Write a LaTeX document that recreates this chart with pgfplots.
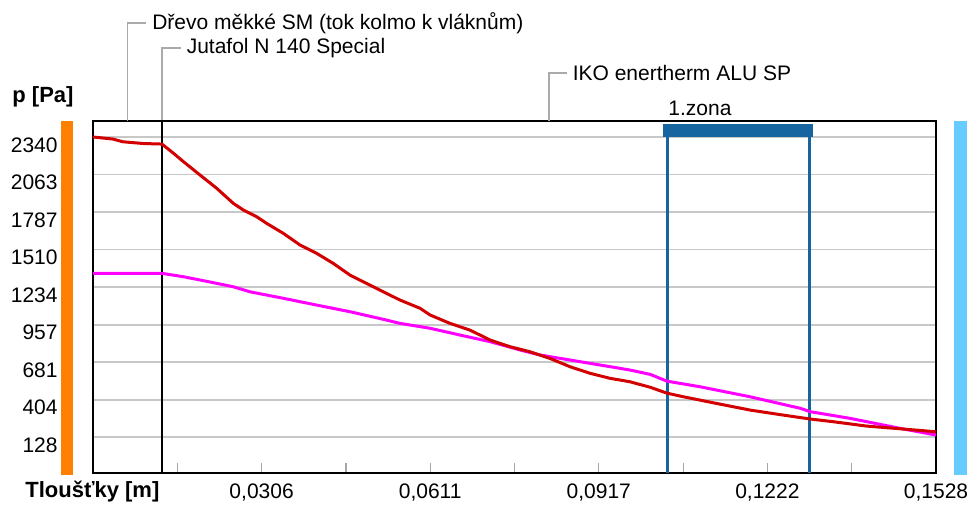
\documentclass[border=0pt]{standalone}
\usepackage{pgfplots}
\pgfplotsset{compat=1.18}
\usepackage{fontspec}
\setmainfont{Liberation Sans}
\definecolor{cred}{RGB}{210,0,0}
\definecolor{cmag}{RGB}{255,0,255}
\definecolor{zoneblue}{RGB}{22,100,160}
\definecolor{gridc}{RGB}{200,200,200}
\definecolor{leadc}{RGB}{170,170,170}
\definecolor{corange}{RGB}{255,128,0}
\definecolor{clblue}{RGB}{102,204,255}
\begin{document}
\begin{tikzpicture}[font=\fontsize{10.5}{12}\selectfont]
\path[use as bounding box] (0,0) rectangle (486pt,252pt);
% side bars
\fill[corange] (30.5pt,14.5pt) rectangle (36.5pt,191.5pt);
\fill[clblue] (477pt,14.5pt) rectangle (483.5pt,191.5pt);
\node[anchor=west,inner sep=0pt,font=\fontsize{11}{12}\selectfont\bfseries] at (6pt,203.5pt) {p [Pa]};
\node[anchor=west,inner sep=0pt,font=\fontsize{11}{12}\selectfont\bfseries] at (12.5pt,6pt) {Tloušťky [m]};
\begin{axis}[
  at={(46.5pt,15.5pt)}, anchor=south west,
  scale only axis, width=421.5pt, height=176pt,
  xmin=0, xmax=0.1528, ymin=-137, ymax=2458,
  clip=false,
  axis line style={line width=1pt},
  ytick={128,404,681,957,1234,1510,1787,2063,2340},
  yticklabels={128,404,681,957,1234,1510,1787,2063,2340},
  ymajorgrids, grid style={line width=0.9pt, color=gridc},
  ytick style={draw=none},
  xtick={0.01528,0.03056,0.04584,0.06112,0.0764,0.09168,0.10696,0.12224,0.13752,0.1528},
  xticklabels={,{0,0306},,{0,0611},,{0,0917},,{0,1222},,{0,1528}},
  xtick pos=bottom, tick align=inside, major tick length=5pt,
  xtick style={color=gray!70, line width=0.6pt},
  ticklabel style={font=\fontsize{10.5}{12}\selectfont},
  yticklabel style={anchor=east, inner sep=0pt, xshift=-17.5pt, yshift=-4pt},
  xticklabel style={anchor=north, inner sep=0pt, yshift=-5pt},
]
% zone band and lines
\fill[zoneblue] (axis cs:0.1033,2340) rectangle (axis cs:0.1305,2436);
\draw[zoneblue, line width=1.5pt] (axis cs:0.10404,-137) -- (axis cs:0.10404,2340);
\draw[zoneblue, line width=1.5pt] (axis cs:0.12978,-137) -- (axis cs:0.12978,2340);
% layer boundary
\draw[black, line width=0.7pt] (axis cs:0.0125,-137) -- (axis cs:0.0125,2458);
% leaders
\draw[leadc, line width=0.8pt] (axis cs:0.00625,2458) -- ([yshift=49pt]axis cs:0.00625,2458) -- ([yshift=49pt,xshift=9.5pt]axis cs:0.00625,2458) node[anchor=west,inner sep=2.5pt,black] {Dřevo měkké SM (tok kolmo k vláknům)};
\draw[leadc, line width=0.8pt] ([yshift=0.5pt]axis cs:0.0125,2458) -- ([yshift=36.5pt]axis cs:0.0125,2458) -- ([yshift=36.5pt,xshift=9.5pt]axis cs:0.0125,2458) node[anchor=west,inner sep=2.5pt,black] {Jutafol N 140 Special};
\draw[leadc, line width=0.8pt] (axis cs:0.08265,2458) -- ([yshift=24pt]axis cs:0.08265,2458) -- ([yshift=24pt,xshift=9pt]axis cs:0.08265,2458) node[anchor=west,inner sep=2.5pt,black] {IKO enertherm ALU SP};
\addplot[cmag, line width=1.5pt] coordinates {
(0,1335) (0.0125,1335) (0.01637,1310) (0.01939,1286) (0.02242,1261) (0.02543,1236)
(0.02845,1199) (0.03449,1151) (0.04055,1101) (0.04658,1052) (0.05262,996)
(0.05565,966) (0.0611,930) (0.06652,880) (0.0720,831) (0.07741,770) (0.08104,733)
(0.08648,696) (0.09192,659) (0.09736,622) (0.1010,590) (0.10404,540) (0.1100,499)
(0.1191,425) (0.1282,340) (0.1300,315) (0.1372,266) (0.1463,192) (0.1528,143)
};
\addplot[cred, line width=1.5pt] coordinates {
(0,2340) (0.0036,2325) (0.0054,2305) (0.0091,2292) (0.0125,2288)
(0.01456,2221) (0.01637,2159) (0.01939,2060) (0.02242,1962) (0.02543,1851)
(0.02724,1802) (0.02967,1752) (0.03149,1703) (0.03449,1630) (0.03752,1544)
(0.04055,1482) (0.04356,1408) (0.04658,1322) (0.04961,1260) (0.05262,1199)
(0.05565,1138) (0.0593,1077) (0.0611,1028) (0.0647,966) (0.0683,917)
(0.0720,843) (0.0756,794) (0.0792,757) (0.0828,708) (0.0865,646)
(0.0901,598) (0.0937,561) (0.0973,536) (0.1010,495) (0.1040,452)
(0.1070,425) (0.1130,376) (0.1191,327) (0.1251,290) (0.1300,261)
(0.1342,241) (0.1402,209) (0.1463,189) (0.1528,167)
};
\end{axis}
\node[anchor=west,inner sep=0pt] at (334pt,198pt) {1.zona};
\end{tikzpicture}
\end{document}
